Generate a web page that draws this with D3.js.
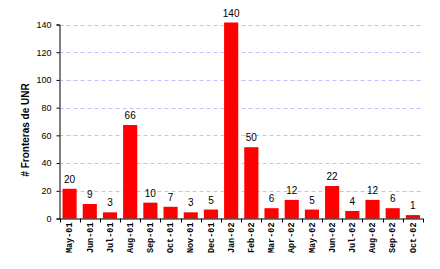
<!DOCTYPE html>
<html><head><meta charset="utf-8">
<script src="https://cdn.jsdelivr.net/npm/d3@7"></script>
<style>body{margin:0;background:#fff}svg{display:block}</style>
</head><body>
<svg id="c" width="440" height="269"></svg>
<script>
const categories = ["May-01","Jun-01","Jul-01","Aug-01","Sep-01","Oct-01","Nov-01","Dec-01","Jan-02","Feb-02","Mar-02","Apr-02","May-02","Jun-02","Jul-02","Aug-02","Sep-02","Oct-02"];
const values = [20,9,3,66,10,7,3,5,140,50,6,12,5,22,4,12,6,1];
const yTicks = [0,20,40,60,80,100,120,140];
const yTitle = "# Fronteras de UNR";

(function () {
const svg = d3.select("#c");
const pl = 59.5, pr = 423, pt = 24.5, pb = 218.5;
const x = d3.scaleBand().domain(categories).range([pl, pr]).paddingInner(0.3).paddingOuter(0.15);
const y = d3.scaleLinear().domain([0, 140]).range([pb, pt]);

// gridlines
svg.append("g").selectAll("line").data(yTicks.filter(d => d > 0)).join("line")
  .attr("x1", pl).attr("x2", pr)
  .attr("y1", d => Math.round(y(d)) + 0.5).attr("y2", d => Math.round(y(d)) + 0.5)
  .attr("stroke", "#c0c0ff").attr("stroke-width", 1).attr("stroke-dasharray", "4,3");

// bars
svg.append("g").selectAll("rect").data(values).join("rect")
  .attr("x", (d, i) => x(categories[i]))
  .attr("width", x.bandwidth())
  .attr("y", d => y(d) - 2)
  .attr("height", d => pb - y(d) + 2)
  .attr("fill", "#ff0000");

// value labels
svg.append("g").selectAll("text").data(values).join("text")
  .attr("x", (d, i) => x(categories[i]) + x.bandwidth() / 2)
  .attr("y", d => y(d) - 8)
  .attr("text-anchor", "middle")
  .attr("font-family", "Liberation Sans, Arial, sans-serif")
  .attr("font-size", "10px")
  .attr("fill", "#000")
  .text(d => d);

// y axis
const ya = d3.axisLeft(y).tickValues(yTicks).tickSize(3).tickPadding(5);
const gy = svg.append("g").attr("transform", `translate(${pl},0)`).call(ya);
gy.select(".domain").attr("stroke", "#000");
gy.selectAll(".tick line").attr("stroke", "#000");
gy.selectAll("text").attr("font-family", "Liberation Sans, Arial, sans-serif").attr("font-size", "9px").attr("fill", "#000");

// x axis
const xa = d3.axisBottom(x).tickSize(0).tickPadding(0);
const gx = svg.append("g").attr("transform", `translate(0,${pb})`).call(xa);
gx.select(".domain").attr("stroke", "#000").attr("d", `M${pl},0.5H${pr}`);
gx.selectAll(".tick text")
  .attr("font-family", "Liberation Mono, Courier New, monospace")
  .attr("font-weight", "bold")
  .attr("font-size", "8.5px")
  .attr("fill", "#000")
  .attr("text-anchor", "end")
  .attr("transform", "rotate(-90)")
  .attr("x", -4).attr("y", 0).attr("dy", "0.32em");
// boundary ticks
const step = x.step();
svg.append("g").selectAll("line").data(d3.range(categories.length + 1)).join("line")
  .attr("x1", i => Math.round(pl + i * step) + 0.5)
  .attr("x2", i => Math.round(pl + i * step) + 0.5)
  .attr("y1", pb).attr("y2", pb + 4)
  .attr("stroke", "#000");

// y title
svg.append("text")
  .attr("transform", `translate(29,130) rotate(-90)`)
  .attr("text-anchor", "middle")
  .attr("font-family", "Liberation Sans, Arial, sans-serif")
  .attr("font-weight", "bold")
  .attr("font-size", "10px")
  .attr("fill", "#000")
  .text(yTitle);
})();
</script>
</body></html>
